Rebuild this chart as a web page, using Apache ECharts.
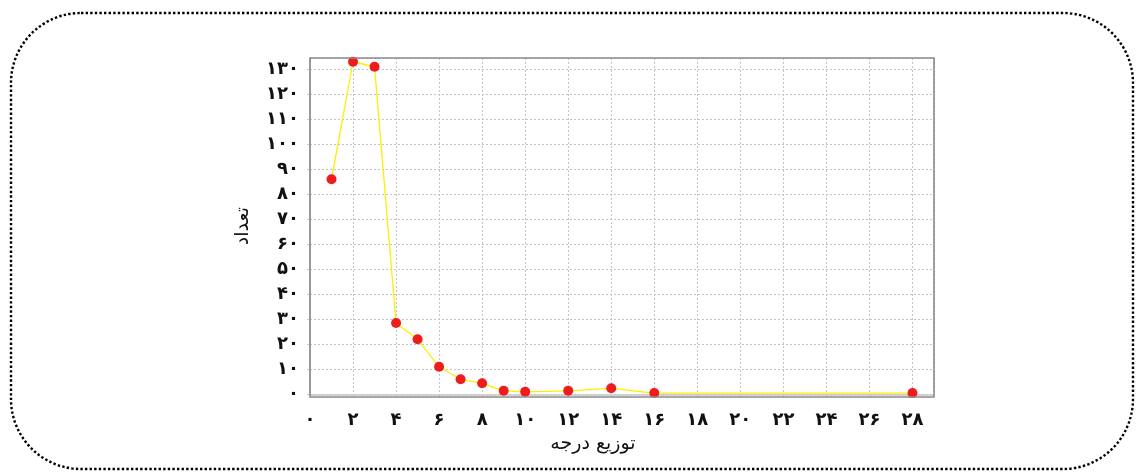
<!DOCTYPE html>
<html>
<head>
<meta charset="utf-8">
<script src="https://cdn.jsdelivr.net/npm/echarts@6/dist/echarts.min.js"></script>
<style>
html,body{margin:0;padding:0;background:#fff;}
#chart{width:1136px;height:472px;}
</style>
</head>
<body>
<div id="chart"></div>
<script>
// Data
const degrees = [1, 2, 3, 4, 5, 6, 7, 8, 9, 10, 12, 14, 16, 28];
const counts  = [86, 133, 131, 28.5, 22, 11, 6, 4.4, 1.4, 1, 1.4, 2.4, 0.5, 0.5];
const persianDigits = ['۰','۱','۲','۳','۴','۵','۶','۷','۸','۹'];
const xAxisTitle = 'توزیع درجه';
const yAxisTitle = 'تعداد';

function toPersian(v) {
  return String(v).split('').map(ch => (ch >= '0' && ch <= '9') ? persianDigits[+ch] : ch).join('');
}

const chart = echarts.init(document.getElementById('chart'), null, {renderer: 'canvas'});
const fontFam = '"DejaVu Sans", "Noto Sans", sans-serif';
const gridLine = {show: true, lineStyle: {color: '#c4c4c4', width: 1, type: [2, 2]}};

chart.setOption({
  animation: false,
  backgroundColor: '#fff',
  grid: {left: 310, right: 202, top: 58, bottom: 77.7, containLabel: false},
  xAxis: {
    type: 'value', min: 0, max: 29, interval: 2,
    offset: 7,
    name: xAxisTitle, nameLocation: 'middle', nameGap: 31,
    nameTextStyle: {fontFamily: fontFam, fontSize: 19, color: '#111', padding: [0, 58, 0, 0]},
    axisLine: {show: true, lineStyle: {color: '#c8c8c8', width: 1.5}},
    axisTick: {show: true, length: 3, lineStyle: {color: '#c8c8c8'}},
    axisLabel: {show: true, margin: 10, fontFamily: fontFam, fontSize: 18, fontWeight: 'bold', color: '#111',
      showMaxLabel: false, formatter: v => (v % 2 === 0 ? toPersian(v) : '')},
    splitLine: gridLine
  },
  yAxis: {
    type: 'value', min: 0, max: 134.5, interval: 10,
    offset: 5,
    name: yAxisTitle, nameLocation: 'middle', nameGap: 52, nameRotate: 90,
    nameTextStyle: {fontFamily: fontFam, fontSize: 19, color: '#111'},
    axisLine: {show: true, lineStyle: {color: '#c8c8c8', width: 1.5}},
    axisTick: {show: true, length: 3, lineStyle: {color: '#c8c8c8'}},
    axisLabel: {show: true, margin: 6, fontFamily: fontFam, fontSize: 18, fontWeight: 'bold', color: '#111',
      showMaxLabel: false, formatter: v => (v % 10 === 0 ? toPersian(v) : '')},
    splitLine: gridLine
  },
  graphic: [
    {type: 'rect', silent: true, z: 10,
      shape: {x: 310, y: 58, width: 624, height: 339},
      style: {fill: 'none', stroke: '#8a8a8a', lineWidth: 1.6}},
    {type: 'rect', silent: true, z: 10,
      shape: {x: 11, y: 13, width: 1122, height: 456, r: 70},
      style: {fill: 'none', stroke: '#000', lineWidth: 2.4, lineDash: [2.4, 2.2]}}
  ],
  series: [{
    type: 'line',
    data: degrees.map((d, i) => [d, counts[i]]),
    symbol: 'circle', symbolSize: 10,
    lineStyle: {color: '#ffee00', width: 1.3},
    itemStyle: {color: '#ee1c1c'},
    clip: false,
    z: 5
  }]
});
</script>
</body>
</html>
